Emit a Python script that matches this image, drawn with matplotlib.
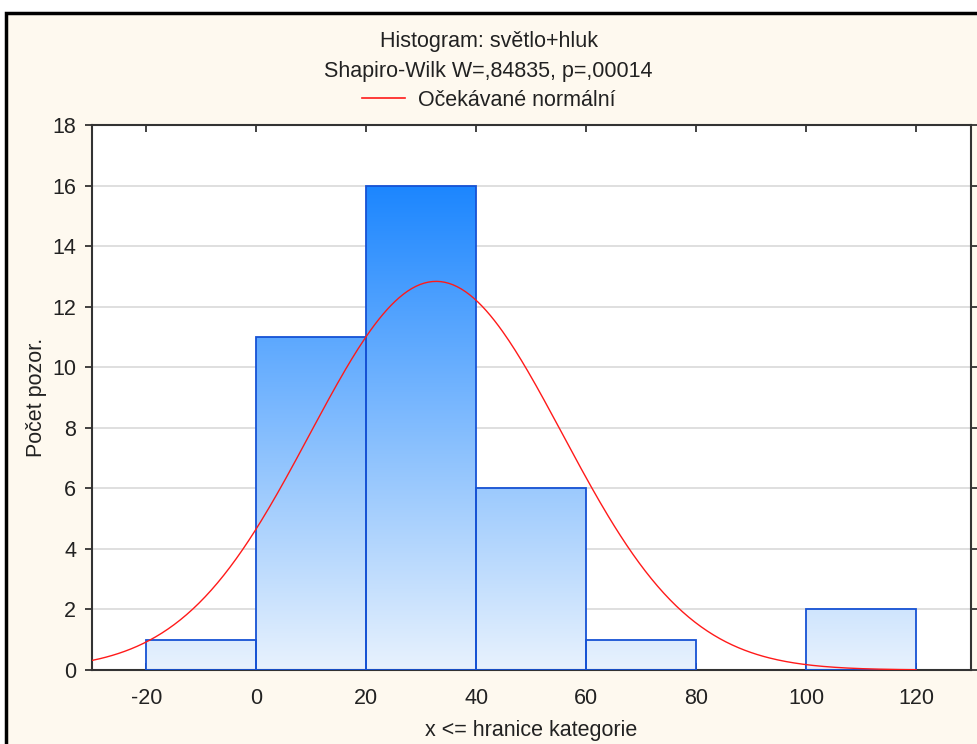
import numpy as np
import matplotlib
matplotlib.use("Agg")
import matplotlib.pyplot as plt
from matplotlib.patches import Rectangle
from matplotlib.colors import LinearSegmentedColormap
from matplotlib.lines import Line2D

plt.rcParams['font.family'] = ['Liberation Sans', 'DejaVu Sans']

# Data
bin_edges = [-20, 0, 20, 40, 60, 80, 100, 120]
counts = [1, 11, 16, 6, 1, 0, 2]
x_ticks = [-20, 0, 20, 40, 60, 80, 100, 120]
y_ticks = [0, 2, 4, 6, 8, 10, 12, 14, 16, 18]
normal_mean = 32.7
normal_sd = 23.0
n_obs = sum(counts)
bin_width = 20

title1 = "Histogram: světlo+hluk"
title2 = "Shapiro-Wilk W=,84835, p=,00014"
legend_label = "Očekávané normální"
xlabel = "x <= hranice kategorie"
ylabel = "Počet pozor."

TXT = '#222222'

fig = plt.figure(figsize=(9.77, 7.44), dpi=100, facecolor='white')
# outer frame with cream background
frame = Rectangle((6/977, -0.1), 1.2, 1 - 13/744 + 0.1, transform=fig.transFigure,
                  facecolor='#FEF9EF', edgecolor='black', linewidth=2.5, zorder=-10)
fig.patches.append(frame)

ax = fig.add_axes([91.5/977, 1 - 670/744, (971 - 91.5)/977, (670 - 125)/744])
ax.set_facecolor('white')

cmap = LinearSegmentedColormap.from_list('grad', ['#E8F2FD', '#1C86FF'])
grad = np.linspace(0, 1, 256).reshape(-1, 1)
ymax_grad = 16
for i, c in enumerate(counts):
    if c <= 0:
        continue
    x0, x1 = bin_edges[i], bin_edges[i + 1]
    rect = Rectangle((x0, 0), x1 - x0, c, facecolor='none', edgecolor='#1652D4',
                     linewidth=1.3, zorder=3)
    ax.add_patch(rect)
    im = ax.imshow(grad, extent=[-30, 130, 0, ymax_grad], origin='lower', cmap=cmap,
                   aspect='auto', zorder=2, interpolation='bilinear')
    im.set_clip_path(rect)

ax.set_xlim(-30, 130)
ax.set_ylim(0, 18)

xs = np.linspace(-30, 120, 400)
ys = n_obs * bin_width / (normal_sd * np.sqrt(2 * np.pi)) * np.exp(-0.5 * ((xs - normal_mean) / normal_sd) ** 2)
ax.plot(xs, ys, color='#FF1A1A', linewidth=1.0, zorder=4)

ax.set_xticks(x_ticks)
ax.set_yticks(y_ticks)
ax.set_xticklabels([str(t) for t in x_ticks])
ax.set_yticklabels([str(t) for t in y_ticks])
ax.tick_params(axis='x', direction='in', top=True, bottom=True, length=5, width=1.2,
               labelsize=15.5, pad=13, colors=TXT)
ax.tick_params(axis='y', direction='out', left=True, right=True, length=5, width=1.2,
               labelsize=15.5, pad=6, colors=TXT)
ax.grid(axis='y', color='#D9D9D9', linewidth=1.2, zorder=0)
ax.set_axisbelow(True)
for s in ax.spines.values():
    s.set_color('#333333')
    s.set_linewidth(1.5)

ax.set_xlabel(xlabel, fontsize=15.5, color=TXT, labelpad=8)
ax.set_ylabel(ylabel, fontsize=15.5, color=TXT, labelpad=4)

fig.text(0.5, 1 - 41/744, title1, ha='center', va='center', fontsize=15.5, color=TXT)
fig.text(0.5, 1 - 71/744, title2, ha='center', va='center', fontsize=15.5, color=TXT)
handle = Line2D([], [], color='#FF1A1A', linewidth=1.2)
fig.legend([handle], [legend_label], loc='center', bbox_to_anchor=(0.5, 1 - 100/744),
           frameon=False, fontsize=15.5, handlelength=2.0, handletextpad=0.6,
           labelcolor=TXT, borderpad=0, borderaxespad=0)

fig.savefig('out.png', dpi=100, facecolor=fig.get_facecolor())
